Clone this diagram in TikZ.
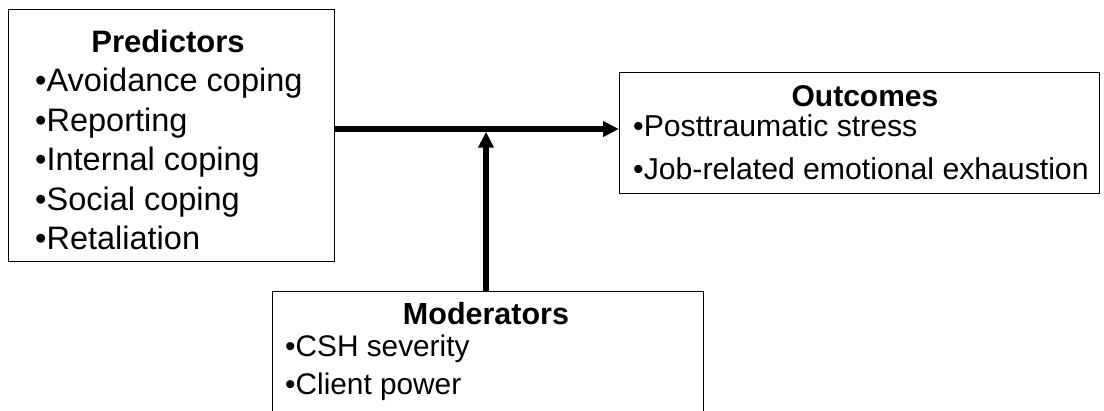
\documentclass[tikz,border=0pt]{standalone}
\usepackage{fontspec}
\setmainfont{Liberation Sans}
\usetikzlibrary{arrows.meta}
\tikzset{
  box/.style={draw, line width=1.4pt, anchor=north west, inner sep=0pt},
  head/.style={font=\fontsize{#1}{37}\selectfont\bfseries, anchor=base, inner sep=0pt},
  head/.default=31,
  item/.style={font=\fontsize{#1}{37}\selectfont, anchor=base west, inner sep=0pt},
  item/.default=31,
  link/.style={line width=5.5pt, -{Triangle[length=16pt,width=15pt]}}
}
\begin{document}
\begin{tikzpicture}[x=1pt,y=-1pt]
    \useasboundingbox (0,0) rectangle (1104,411);
    \clip (0,0) rectangle (1104,411);
    % boxes
    \node[box, minimum width=326pt, minimum height=252pt] (pred) at (8,9) {};
    \node[box, minimum width=480pt, minimum height=121pt] (out) at (619,72) {};
    \node[box, minimum width=431pt, minimum height=140pt] (mod) at (272,291) {};
    % predictors
    \node[head] (ph) at (168,53) {Predictors};
    \node[item=32.5] (p1) at (35,92) {•Avoidance coping};
    \node[item=32.5] (p2) at (35,132) {•Reporting};
    \node[item=32.5] (p3) at (35,171) {•Internal coping};
    \node[item=32.5] (p4) at (35,211) {•Social coping};
    \node[item=32.5] (p5) at (35,250) {•Retaliation};
    % outcomes
    \node[head=30] (oh) at (865,107) {Outcomes};
    \node[item=30.2] (o1) at (633,137) {•Posttraumatic stress};
    \node[item=30.2] (o2) at (633,180) {•Job-related emotional exhaustion};
    % moderators
    \node[head=30.5] (mh) at (486,325) {Moderators};
    \node[item=29.8] (m1) at (285,357) {•CSH severity};
    \node[item=29.8] (m2) at (285,395) {•Client power};
    % arrows
    \coordinate (join) at (486,129);
    \draw[link] (pred.east |- join) -- (out.west |- join);
    \draw[link, shorten >=2.75pt] (mod.north -| join) -- (join);
\end{tikzpicture}
\end{document}
